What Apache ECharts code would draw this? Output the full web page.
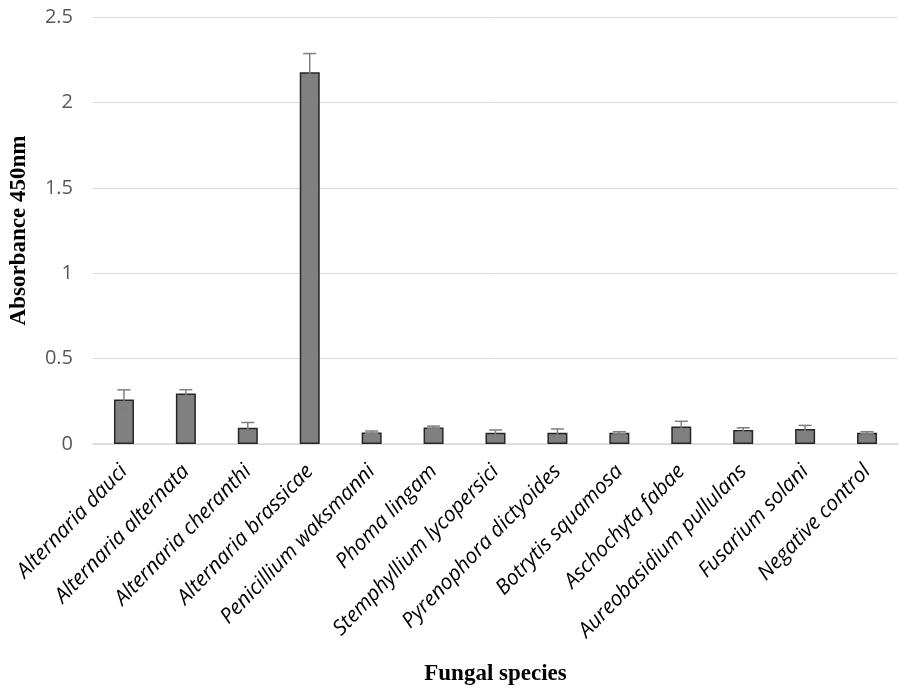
<!DOCTYPE html>
<html>
<head>
<meta charset="utf-8">
<script src="https://cdn.jsdelivr.net/npm/echarts@6/dist/echarts.min.js"></script>
<style>
  html, body { margin: 0; padding: 0; background: #ffffff; }
  #chart { width: 907px; height: 692px; }
</style>
</head>
<body>
<div id="chart"></div>
<script>
// Fungal species tested
const species = [
  'Alternaria dauci', 'Alternaria alternata', 'Alternaria cheranthi',
  'Alternaria brassicae', 'Penicillium waksmanni', 'Phoma lingam',
  'Stemphyllium lycopersici', 'Pyrenophora dictyoides', 'Botrytis squamosa',
  'Aschochyta fabae', 'Aureobasidium pullulans', 'Fusarium solani',
  'Negative control'
];

// Mean absorbance at 450 nm
const absorbance = [0.26, 0.296, 0.095, 2.176, 0.068, 0.097, 0.066, 0.066, 0.066, 0.103, 0.082, 0.088, 0.066];

// Error (± half-width) for each mean
const errorSize = [0.057, 0.022, 0.031, 0.11, 0.008, 0.008, 0.016, 0.022, 0.006, 0.03, 0.013, 0.021, 0.006];

const yTicks = { min: 0, max: 2.5, interval: 0.5 };

const errorData = absorbance.map((v, i) => [i, v - errorSize[i], v + errorSize[i]]);

const chart = echarts.init(document.getElementById('chart'));

chart.setOption({
  animation: false,
  backgroundColor: '#ffffff',
  grid: { left: 91, right: 9, top: 17, bottom: 248 },
  xAxis: {
    type: 'category',
    data: species,
    name: 'Fungal species',
    nameLocation: 'middle',
    nameGap: 219,
    nameTextStyle: {
      fontFamily: 'Liberation Serif', fontWeight: 'bold', fontSize: 23, color: '#000000'
    },
    axisLine: { lineStyle: { color: '#d9d9d9', width: 1.5 } },
    axisTick: { show: false },
    axisLabel: {
      rotate: 46,
      interval: 0,
      margin: 24,
      fontFamily: 'Open Sans',
      fontStyle: 'italic',
      fontSize: 21,
      color: '#000000'
    }
  },
  yAxis: {
    type: 'value',
    min: yTicks.min,
    max: yTicks.max,
    interval: yTicks.interval,
    name: 'Absorbance 450nm',
    nameLocation: 'middle',
    nameGap: 62,
    nameTextStyle: {
      fontFamily: 'Liberation Serif', fontWeight: 'bold', fontSize: 23, color: '#000000'
    },
    axisLine: { show: false },
    axisTick: { show: false },
    splitLine: { lineStyle: { color: '#d9d9d9', width: 1 } },
    axisLabel: {
      margin: 20,
      fontFamily: 'Open Sans',
      fontSize: 20,
      color: '#595959'
    }
  },
  series: [
    {
      type: 'bar',
      data: absorbance,
      barWidth: 20,
      itemStyle: { color: '#808080', borderColor: '#262626', borderWidth: 1.5 }
    },
    {
      type: 'custom',
      data: errorData,
      z: 10,
      renderItem: function (params, api) {
        const x = api.value(0);
        const lo = api.coord([x, api.value(1)]);
        const hi = api.coord([x, api.value(2)]);
        const half = 6.5;
        const style = { stroke: '#7f7f7f', lineWidth: 1.5 };
        return {
          type: 'group',
          children: [
            { type: 'line', shape: { x1: lo[0], y1: lo[1], x2: hi[0], y2: hi[1] }, style },
            { type: 'line', shape: { x1: hi[0] - half, y1: hi[1], x2: hi[0] + half, y2: hi[1] }, style },
            { type: 'line', shape: { x1: lo[0] - half, y1: lo[1], x2: lo[0] + half, y2: lo[1] }, style }
          ]
        };
      }
    }
  ]
});
</script>
</body>
</html>
